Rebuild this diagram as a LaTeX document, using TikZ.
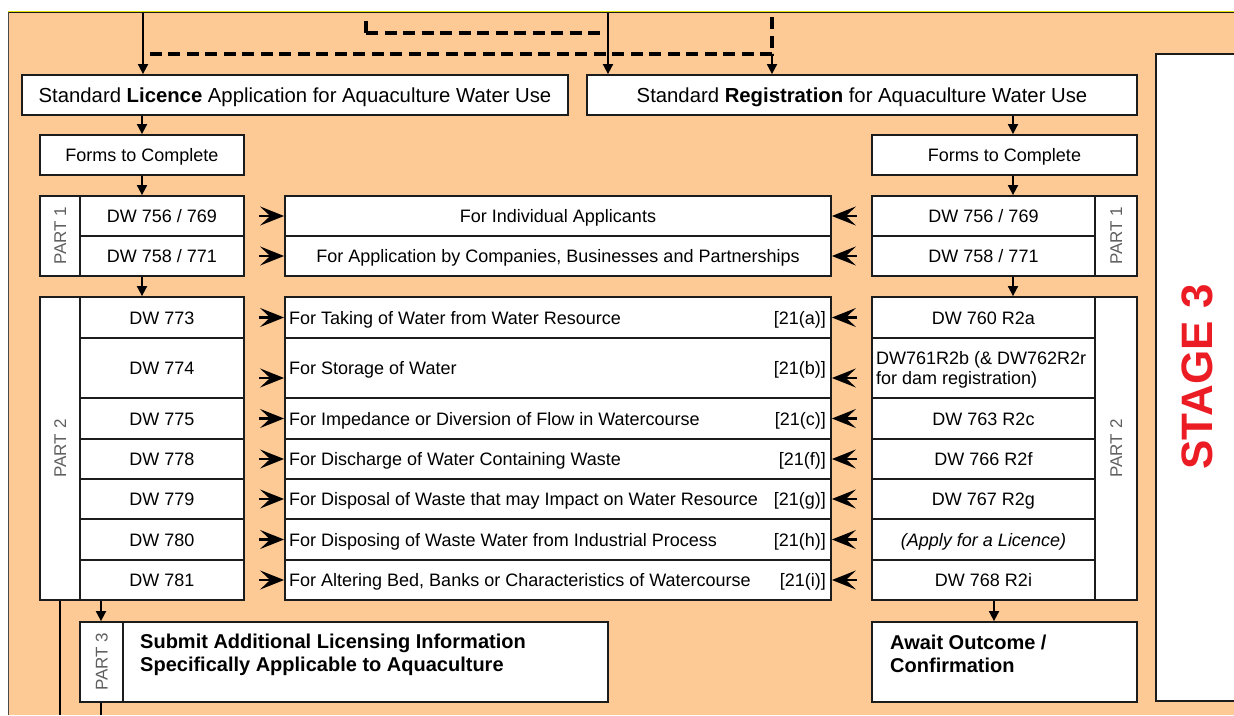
\documentclass[tikz,border=0pt]{standalone}
\usepackage{fontspec}
\setmainfont{Liberation Sans}
\usetikzlibrary{arrows.meta,calc}
\definecolor{bgor}{RGB}{253,202,150}
\definecolor{bline}{RGB}{28,28,28}
\definecolor{pgray}{RGB}{95,95,95}
\definecolor{stred}{RGB}{236,28,36}
\definecolor{topyel}{RGB}{225,225,0}
\newcommand\fsz[1]{\fontsize{#1}{#1}\selectfont}
\newcommand\bx[6][]{\node[box,minimum width={(#5-#3)*1pt},minimum height={(#6-#4)*1pt},#1] (#2) at ({(#3+#5)/2},{(#4+#6)/2})}
\begin{document}
\begin{tikzpicture}[x=1pt,y=-1pt,
  box/.style={draw=bline,line width=1.8pt,fill=white,inner sep=0pt,font=\fsz{18},text height=13pt,text depth=0pt},
  flow/.style={draw=black,line width=1.8pt,-{Triangle[length=10pt,width=10pt]}},
  plain/.style={draw=black,line width=1.8pt},
  dashline/.style={draw=black,line width=3.4pt,dash pattern=on 12pt off 6.5pt},
  chev/.style={draw=black,line width=2.2pt,-{Stealth[length=24pt,width=19pt,inset=10pt]}},
  partlbl/.style={rotate=90,text=pgray,font=\fsz{17},inner sep=0pt,text height=12pt,text depth=0pt},
  txt/.style={font=\fsz{18},inner sep=0pt,anchor=base west},
  btxt/.style={font=\bfseries\fsz{20},inner sep=0pt,anchor=base west}]
\useasboundingbox (0,0) rectangle (1234,715);
\fill[white] (0,0) rectangle (1234,715);
\fill[bgor] (8,12) rectangle (1234,715);
\draw[topyel,line width=1.2pt] (8,11.2) -- (1234,11.2);
\draw[bline,line width=1.2pt] (8,12.8) -- (1234,12.8);
\draw[bline!80,line width=1.2pt] (8.6,12) -- (8.6,715);

% stage 3
\bx[line width=2.4pt]{st}{1156}{54}{1244}{701}{};
\node[rotate=90,text=stred,font=\bfseries\fsz{44},inner sep=0pt] (stt) at (1197,377) {STAGE 3};

% headers
\bx{lic}{22}{75}{568}{115}[font=\fsz{20.3},text height=14pt]{Standard \textbf{Licence} Application for Aquaculture Water Use};
\bx{reg}{587}{75}{1137}{115}[font=\fsz{20.3},text height=14pt]{Standard \textbf{Registration} for Aquaculture Water Use};
\bx{lf}{40}{135}{244}{175}{Forms to Complete};
\bx{rf}{872}{135}{1137}{175}{Forms to Complete};

% part 1
\bx{lp1}{40}{196}{80}{276}{};
\node[partlbl] (lp1t) at (lp1.center) {PART 1};
\bx{l1a}{80}{196}{244}{236}{DW 756 / 769};
\bx{l1b}{80}{236}{244}{276}{DW 758 / 771};
\bx{m1a}{285}{196}{831}{236}{For Individual Applicants};
\bx{m1b}{285}{236}{831}{276}{For Application by Companies, Businesses and Partnerships};
\bx{r1a}{872}{196}{1095}{236}{DW 756 / 769};
\bx{r1b}{872}{236}{1095}{276}{DW 758 / 771};
\bx{rp1}{1095}{196}{1137}{276}{};
\node[partlbl] (rp1t) at (rp1.center) {PART 1};

% part 2
\bx{lp2}{40}{297}{80}{600}{};
\node[partlbl] (lp2t) at (lp2.center) {PART 2};
\bx{rp2}{1095}{297}{1137}{600}{};
\node[partlbl] (rp2t) at (rp2.center) {PART 2};

\bx{l2a}{80}{297}{244}{338}{DW 773};
\bx{l2b}{80}{338}{244}{398}{DW 774};
\bx{l2c}{80}{398}{244}{439}{DW 775};
\bx{l2d}{80}{439}{244}{479}{DW 778};
\bx{l2e}{80}{479}{244}{519}{DW 779};
\bx{l2f}{80}{519}{244}{560}{DW 780};
\bx{l2g}{80}{560}{244}{600}{DW 781};

\bx{m2a}{285}{297}{831}{338}{};
\bx{m2b}{285}{338}{831}{398}{};
\bx{m2c}{285}{398}{831}{439}{};
\bx{m2d}{285}{439}{831}{479}{};
\bx{m2e}{285}{479}{831}{519}{};
\bx{m2f}{285}{519}{831}{560}{};
\bx{m2g}{285}{560}{831}{600}{};

\node[txt] (m2at) at (289,324) {For Taking of Water from Water Resource};
\node[txt] (m2bt) at (289,374) {For Storage of Water};
\node[txt] (m2ct) at (289,425) {For Impedance or Diversion of Flow in Watercourse};
\node[txt] (m2dt) at (289,465) {For Discharge of Water Containing Waste};
\node[txt] (m2et) at (289,505) {For Disposal of Waste that may Impact on Water Resource};
\node[txt] (m2ft) at (289,546) {For Disposing of Waste Water from Industrial Process};
\node[txt] (m2gt) at (289,586) {For Altering Bed, Banks or Characteristics of Watercourse};

\node[txt,anchor=base east] (m2ab) at (826,324) {[21(a)]};
\node[txt,anchor=base east] (m2bb) at (826,374) {[21(b)]};
\node[txt,anchor=base east] (m2cb) at (826,425) {[21(c)]};
\node[txt,anchor=base east] (m2db) at (826,465) {[21(f)]};
\node[txt,anchor=base east] (m2eb) at (826,505) {[21(g)]};
\node[txt,anchor=base east] (m2fb) at (826,546) {[21(h)]};
\node[txt,anchor=base east] (m2gb) at (826,586) {[21(i)]};

\bx{r2a}{872}{297}{1095}{338}{DW 760 R2a};
\bx{r2b}{872}{338}{1095}{398}{};
\node[txt] (r2bt1) at (876,364) {DW761R2b (\& DW762R2r};
\node[txt] (r2bt2) at (876,384) {for dam registration)};
\bx{r2c}{872}{398}{1095}{439}{DW 763 R2c};
\bx{r2d}{872}{439}{1095}{479}{DW 766 R2f};
\bx{r2e}{872}{479}{1095}{519}{DW 767 R2g};
\bx{r2f}{872}{519}{1095}{560}{\itshape (Apply for a Licence)};
\bx{r2g}{872}{560}{1095}{600}{DW 768 R2i};

% part 3 and await
\bx{p3l}{80}{622}{123}{702}{};
\node[partlbl] (p3lt) at (p3l.center) {PART 3};
\bx{p3}{123}{622}{608}{702}{};
\node[btxt] (p3t1) at (140,648) {Submit Additional Licensing Information};
\node[btxt] (p3t2) at (140,671) {Specifically Applicable to Aquaculture};
\bx{aw}{872}{622}{1137}{702}{};
\node[btxt] (awt1) at (890,649) {Await Outcome /};
\node[btxt] (awt2) at (890,672) {Confirmation};

% top connectors
\coordinate (tA) at (143,13);
\coordinate (tB) at (608,13);
\coordinate (dA) at (366,17);
\coordinate (dB) at (366,33);
\coordinate (dC) at (608,33);
\coordinate (dD) at (143,54);
\coordinate (dE) at (772,54);
\coordinate (dF) at (772,17);
\draw[dashline] (dB) -- (dA);
\draw[dashline] (dB) -- (dC);
\draw[dashline] (dF) -- (dE) -- (dD);
\draw[flow] (tA) -- (tA |- lic.north);
\draw[flow] (tB) -- (tB |- reg.north);
\draw[flow] (dE) -- (dE |- reg.north);

% vertical flow
\coordinate (rx) at (1013,0);
\coordinate (rx2) at (994,0);
\coordinate (lx3) at (101,0);
\coordinate (bot1) at (60,715);
\coordinate (bot2) at (101,715);
\draw[flow] (lic.south -| lf.north) -- (lf.north);
\draw[flow] (lf.south) -- (lf.south |- l1a.north);
\draw[flow] (lf.south |- l1b.south) -- (lf.south |- l2a.north);
\draw[flow] (reg.south -| rx) -- (rf.north -| rx);
\draw[flow] (rf.south -| rx) -- (rp1.north -| rx);
\draw[flow] (r1b.south -| rx) -- (rp2.north -| rx);
\draw[flow] (r2g.south -| rx2) -- (aw.north -| rx2);
\draw[flow] (l2g.south -| lx3) -- (p3l.north -| lx3);
\draw[plain] (lp2.south -| bot1) -- (bot1);
\draw[plain] (p3l.south -| bot2) -- (bot2);

% chevrons
\foreach \a/\b in {l1a/m1a,l1b/m1b,l2a/m2a,l2c/m2c,l2d/m2d,l2e/m2e,l2f/m2f,l2g/m2g}
  \draw[chev,shorten <=14pt] (\a.east) -- (\b.west);
\foreach \a/\b in {r1a/m1a,r1b/m1b,r2a/m2a,r2c/m2c,r2d/m2d,r2e/m2e,r2f/m2f,r2g/m2g}
  \draw[chev,shorten <=14pt] (\a.west) -- (\b.east);
\draw[chev,shorten <=14pt] ([yshift=-10pt]l2b.east) -- ([yshift=-10pt]m2b.west);
\draw[chev,shorten <=14pt] ([yshift=-10pt]r2b.west) -- ([yshift=-10pt]m2b.east);
\end{tikzpicture}
\end{document}
